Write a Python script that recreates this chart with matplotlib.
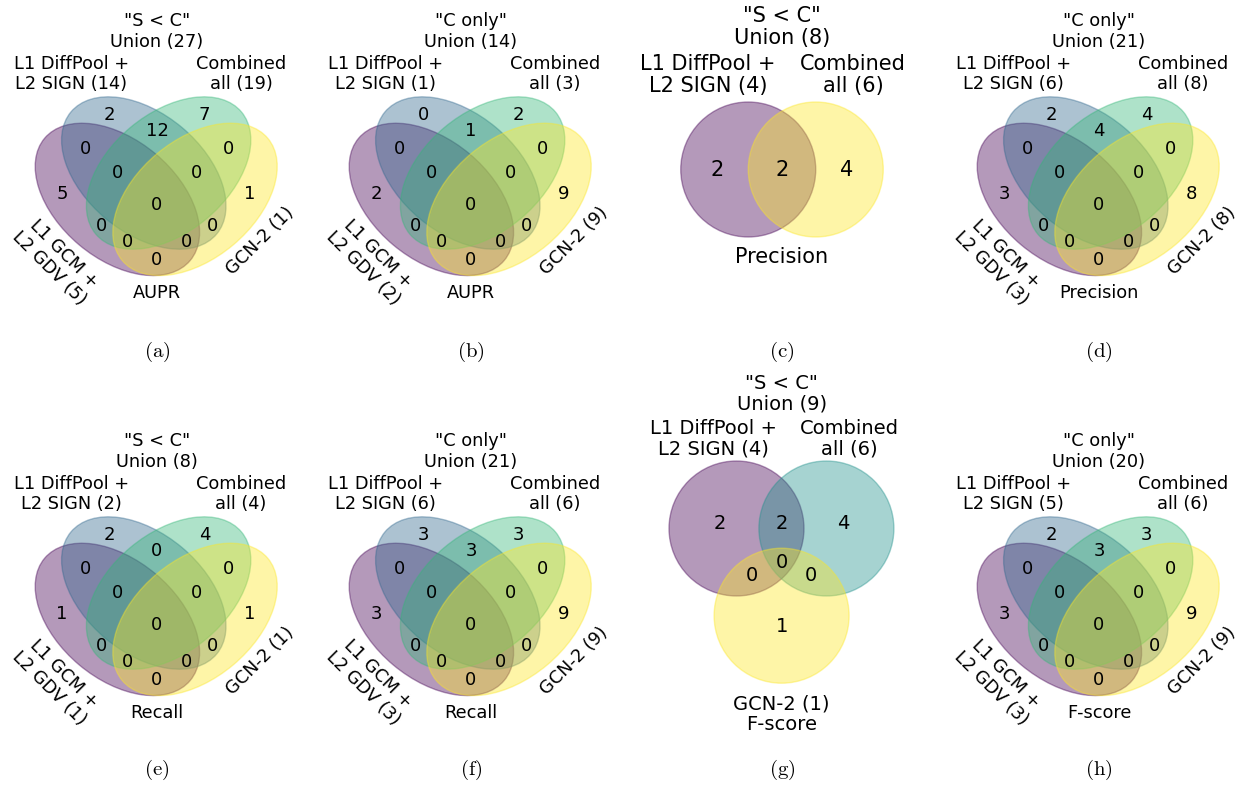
import matplotlib
matplotlib.use("Agg")
import matplotlib.pyplot as plt
from matplotlib.patches import Ellipse, Circle
import numpy as np

plt.rcParams["font.family"] = ["DejaVu Sans"]
plt.rcParams["mathtext.fontset"] = "cm"

W, H = 1247, 788

# ---------------- data ----------------
names4 = ["L1 GCM +\nL2 GDV", "L1 DiffPool +\nL2 SIGN", "Combined\nall", "GCN-2"]
keys4 = ["1000", "0100", "0010", "0001", "1100", "1010", "1001", "0110",
         "0101", "0011", "1110", "1101", "1011", "0111", "1111"]

counts_a = [5, 2, 7, 1, 0, 0, 0, 12, 0, 0, 0, 0, 0, 0, 0]
counts_b = [2, 0, 2, 9, 0, 0, 0, 1, 0, 0, 0, 0, 0, 0, 0]
counts_d = [3, 2, 4, 8, 0, 0, 0, 4, 0, 0, 0, 0, 0, 0, 0]
counts_e = [1, 2, 4, 1, 0, 0, 0, 0, 0, 0, 0, 0, 0, 0, 0]
counts_f = [3, 3, 3, 9, 0, 0, 0, 3, 0, 0, 0, 0, 0, 0, 0]
counts_h = [3, 2, 3, 9, 0, 0, 0, 3, 0, 0, 0, 0, 0, 0, 0]

names2 = ["L1 DiffPool +\nL2 SIGN", "Combined\nall"]
keys2 = ["10", "01", "11"]
counts_c = [2, 4, 2]

names3 = ["L1 DiffPool +\nL2 SIGN", "Combined\nall", "GCN-2"]
keys3 = ["100", "010", "001", "110", "101", "011", "111"]
counts_g = [2, 4, 1, 2, 0, 0, 0]

groups = ['"S < C"', '"C only"', '"S < C"', '"C only"',
          '"S < C"', '"C only"', '"S < C"', '"C only"']
metrics = ["AUPR", "AUPR", "Precision", "Precision",
           "Recall", "Recall", "F-score", "F-score"]
captions = ["(a)", "(b)", "(c)", "(d)", "(e)", "(f)", "(g)", "(h)"]

# ---------------- layout of Venn shapes ----------------
ELL4 = [(0.350, 0.400, 140.0), (0.450, 0.500, 140.0),
        (0.544, 0.500, 40.0), (0.644, 0.400, 40.0)]
PETAL4 = {"0001": (.85, .42), "0010": (.68, .72), "0011": (.77, .59),
          "0100": (.32, .72), "0101": (.71, .30), "0110": (.50, .66),
          "0111": (.65, .50), "1000": (.14, .42), "1001": (.50, .17),
          "1010": (.29, .30), "1011": (.39, .24), "1100": (.23, .59),
          "1101": (.61, .24), "1110": (.35, .50), "1111": (.50, .38)}
CIRC2 = [(.375, .500), (.625, .500)]
PETAL2 = {"10": (.26, .50), "01": (.74, .50), "11": (.50, .50)}
CIRC3 = [(.333, .633), (.666, .633), (.500, .310)]
PETAL3 = {"100": (.270, .650), "010": (.730, .650), "001": (.500, .270),
          "110": (.500, .650), "101": (.390, .460), "011": (.610, .460),
          "111": (.500, .508)}

cmap = plt.get_cmap("viridis")


def colors_for(n):
    return [cmap(v)[:3] + (0.4,) for v in np.linspace(0, 1, n)]


def set_sizes(keys, counts, n):
    return [sum(c for k, c in zip(keys, counts) if k[i] == "1") for i in range(n)]


fig = plt.figure(figsize=(W / 100, H / 100), dpi=100)


def venn_axes(x0, top, side):
    ax = fig.add_axes([x0 / W, 1 - (top + side) / H, side / W, side / H])
    ax.set_xlim(0, 1)
    ax.set_ylim(0, 1)
    ax.set_axis_off()
    return ax


def draw_venn4(ax, counts, group, metric):
    cols = colors_for(4)
    for (x, y, a), c in zip(ELL4, cols):
        ax.add_patch(Ellipse((x, y), 0.72, 0.45, angle=a, facecolor=c,
                             edgecolor=c, linewidth=1.0))
    for k, v in zip(keys4, counts):
        x, y = PETAL4[k]
        ax.text(x, y, str(v), ha="center", va="center", fontsize=13)
    sizes = set_sizes(keys4, counts, 4)
    fs = 12.8
    ax.text(0.5, 1.036, f"{group}\nUnion ({sum(counts)})", ha="center",
            va="center", fontsize=fs, linespacing=1.15)
    ax.text(0.176, 0.875, f"{names4[1]} ({sizes[1]})", ha="center",
            va="center", fontsize=fs, linespacing=1.15)
    ax.text(0.818, 0.875, f"{names4[2]} ({sizes[2]})", ha="center",
            va="center", fontsize=fs, linespacing=1.15)
    ax.text(0.12, 0.166, f"{names4[0]} ({sizes[0]})", ha="center",
            va="center", fontsize=fs, rotation=-45, rotation_mode="anchor",
            linespacing=1.15)
    ax.text(0.89, 0.244, f"{names4[3]} ({sizes[3]})", ha="center",
            va="center", fontsize=fs, rotation=45, rotation_mode="anchor")
    ax.text(0.5, 0.047, metric, ha="center", va="center", fontsize=fs)


def draw_venn2(ax, counts, group, metric):
    cols = colors_for(2)
    for (x, y), c in zip(CIRC2, cols):
        ax.add_patch(Circle((x, y), 0.25, facecolor=c, edgecolor=c, linewidth=1.0))
    for k, v in zip(keys2, counts):
        x, y = PETAL2[k]
        ax.text(x, y, str(v), ha="center", va="center", fontsize=15)
    sizes = set_sizes(keys2, counts, 2)
    fs = 15
    ax.text(0.5, 1.028, f"{group}\nUnion ({sum(counts)})", ha="center",
            va="center", fontsize=fs, linespacing=1.1)
    ax.text(0.226, 0.85, f"{names2[0]} ({sizes[0]})", ha="center",
            va="center", fontsize=fs, linespacing=1.1)
    ax.text(0.763, 0.85, f"{names2[1]} ({sizes[1]})", ha="center",
            va="center", fontsize=fs, linespacing=1.1)
    ax.text(0.5, 0.176, metric, ha="center", va="center", fontsize=fs)


def draw_venn3(ax, counts, group, metric):
    cols = colors_for(3)
    for (x, y), c in zip(CIRC3, cols):
        ax.add_patch(Circle((x, y), 0.25, facecolor=c, edgecolor=c, linewidth=1.0))
    for k, v in zip(keys3, counts):
        x, y = PETAL3[k]
        ax.text(x, y, str(v), ha="center", va="center", fontsize=14)
    sizes = set_sizes(keys3, counts, 3)
    fs = 14
    ax.text(0.5, 1.133, f"{group}\nUnion ({sum(counts)})", ha="center",
            va="center", fontsize=fs, linespacing=1.1)
    ax.text(0.246, 0.964, f"{names3[0]} ({sizes[0]})", ha="center",
            va="center", fontsize=fs, linespacing=1.1)
    ax.text(0.75, 0.964, f"{names3[1]} ({sizes[1]})", ha="center",
            va="center", fontsize=fs, linespacing=1.1)
    ax.text(0.5, -0.055, f"{names3[2]} ({sizes[2]})\n{metric}", ha="center",
            va="center", fontsize=fs, linespacing=1.1)


centers = [157, 471, 782, 1099]
side4 = 264

# row 1
draw_venn4(venn_axes(centers[0] - side4 / 2, 41, side4), counts_a, groups[0], metrics[0])
draw_venn4(venn_axes(centers[1] - side4 / 2, 41, side4), counts_b, groups[1], metrics[1])
draw_venn2(venn_axes(647, 34.5, 270), counts_c, groups[2], metrics[2])
draw_venn4(venn_axes(centers[3] - side4 / 2, 41, side4), counts_d, groups[3], metrics[3])

# row 2
draw_venn4(venn_axes(centers[0] - side4 / 2, 461, side4), counts_e, groups[4], metrics[4])
draw_venn4(venn_axes(centers[1] - side4 / 2, 461, side4), counts_f, groups[5], metrics[5])
draw_venn3(venn_axes(646.6, 429.4, 270), counts_g, groups[6], metrics[6])
draw_venn4(venn_axes(centers[3] - side4 / 2, 461, side4), counts_h, groups[7], metrics[7])

# sub-figure captions
for i, cap in enumerate(captions):
    cx = centers[i % 4]
    cy = 352 if i < 4 else 770
    fig.text(cx / W, 1 - cy / H, r"$\mathrm{" + cap + "}$", ha="center",
             va="center", fontsize=15)

fig.savefig("out.png", dpi=100, facecolor="white")
